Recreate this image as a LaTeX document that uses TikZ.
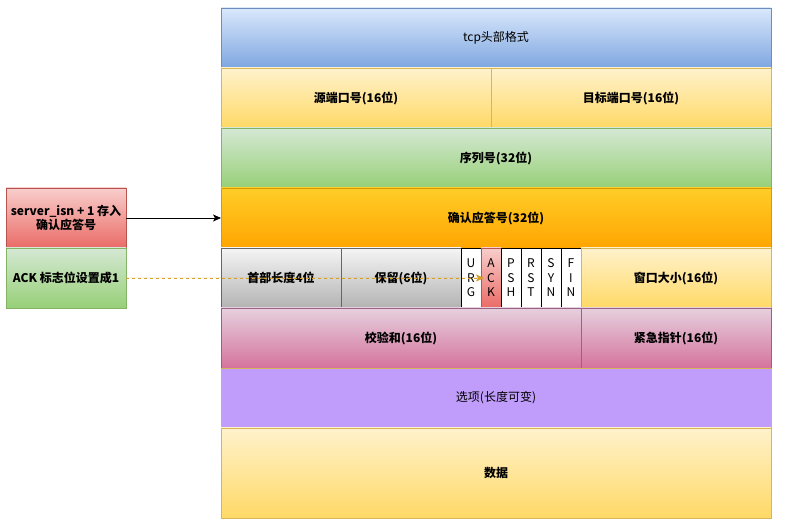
\documentclass[tikz,border=0pt]{standalone}
\usepackage{fontspec}
\newfontfamily\cjk{Noto Sans CJK SC}
\usetikzlibrary{arrows.meta,positioning}
\definecolor{blueA}{HTML}{DAE8FC}
\definecolor{blueB}{HTML}{7EA6E0}
\definecolor{blueL}{HTML}{6C8EBF}
\definecolor{yelA}{HTML}{FFF2CC}
\definecolor{yelB}{HTML}{FFD966}
\definecolor{yelL}{HTML}{D6B656}
\definecolor{grnA}{HTML}{D5E8D4}
\definecolor{grnB}{HTML}{97D077}
\definecolor{grnL}{HTML}{82B366}
\definecolor{orgA}{HTML}{FFCD28}
\definecolor{orgB}{HTML}{FFA500}
\definecolor{orgL}{HTML}{D79B00}
\definecolor{gryA}{HTML}{F5F5F5}
\definecolor{gryB}{HTML}{B3B3B3}
\definecolor{gryL}{HTML}{666666}
\definecolor{redA}{HTML}{F8CECC}
\definecolor{redB}{HTML}{EA6B66}
\definecolor{redL}{HTML}{B85450}
\definecolor{pnkA}{HTML}{E6D0DE}
\definecolor{pnkB}{HTML}{D5739D}
\definecolor{pnkL}{HTML}{996185}
\definecolor{purp}{HTML}{C19DFB}
\definecolor{dashc}{HTML}{D4A02A}

\begin{document}
\begin{tikzpicture}[
 cell/.style={draw,line width=0.8pt,outer sep=0pt,inner sep=0pt,anchor=north west,minimum height=60pt,align=center,font=\cjk\bfseries\fontsize{12}{14}\selectfont},
 plain/.style={cell,font=\cjk\fontsize{12}{14}\selectfont},
 bluecell/.style={draw=blueL,top color=blueA,bottom color=blueB},
 yelcell/.style={draw=yelL,top color=yelA,bottom color=yelB},
 grncell/.style={draw=grnL,top color=grnA,bottom color=grnB},
 orgcell/.style={draw=orgL,top color=orgA,bottom color=orgB},
 grycell/.style={draw=gryL,top color=gryA,bottom color=gryB},
 redcell/.style={draw=redL,top color=redA,bottom color=redB},
 pnkcell/.style={draw=pnkL,top color=pnkA,bottom color=pnkB},
 flag/.style={cell,minimum width=20pt,fill=white,draw=black,font=\cjk\fontsize{12}{14.5}\selectfont},
 arr/.style={-{Stealth[length=8pt,width=7pt,inset=2pt]},line width=0.8pt}
]
\useasboundingbox (0,0) rectangle (785pt,-526pt);
% header column
\node[plain,bluecell,minimum width=550pt] (title) at (221pt,-8pt) {tcp头部格式};
\node[cell,yelcell,minimum width=270pt,below right=0pt and 0pt of title.south west] (srcport) {源端口号(16位)};
\node[cell,yelcell,minimum width=280pt,right=0pt of srcport] (dstport) {目标端口号(16位)};
\node[cell,grncell,minimum width=550pt,below right=0pt and 0pt of srcport.south west] (seqno) {序列号(32位)};
\node[cell,orgcell,minimum width=550pt,below right=0pt and 0pt of seqno.south west] (ackno) {确认应答号(32位)};
\node[cell,grycell,minimum width=120pt,below right=0pt and 0pt of ackno.south west] (hdrlen) {首部长度4位};
\node[cell,grycell,minimum width=120pt,right=0pt of hdrlen] (resv) {保留(6位)};
\node[flag,right=0pt of resv] (urg) {U\\R\\G};
\node[flag,redcell,right=0pt of urg] (ackflag) {A\\C\\K};
\node[flag,right=0pt of ackflag] (psh) {P\\S\\H};
\node[flag,right=0pt of psh] (rst) {R\\S\\T};
\node[flag,right=0pt of rst] (syn) {S\\Y\\N};
\node[flag,right=0pt of syn] (fin) {F\\I\\N};
\node[cell,yelcell,minimum width=190pt,right=0pt of fin] (window) {窗口大小(16位)};
\node[cell,pnkcell,minimum width=360pt,below right=0pt and 0pt of hdrlen.south west] (chksum) {校验和(16位)};
\node[cell,pnkcell,minimum width=190pt,right=0pt of chksum] (urgptr) {紧急指针(16位)};
\node[plain,draw=yelL,fill=purp,minimum width=550pt,below right=0pt and 0pt of chksum.south west] (options) {选项(长度可变)};
\node[cell,yelcell,minimum width=550pt,minimum height=90pt,below right=0pt and 0pt of options.south west] (payload) {数据};
% notes on the left
\node[cell,redcell,minimum width=120pt] (isnnote) at (6pt,-188pt) {server\_isn + 1 存入\\确认应答号};
\node[cell,grncell,minimum width=120pt,below right=0pt and 0pt of isnnote.south west] (acknote) {ACK 标志位设置成1};
\draw[arr] (isnnote) -- (ackno);
\draw[arr,draw=dashc,fill=dashc,line width=0.6pt,dash pattern=on 3pt off 3pt] (acknote) -- ([xshift=3pt]ackflag.west);
\end{tikzpicture}
\end{document}
